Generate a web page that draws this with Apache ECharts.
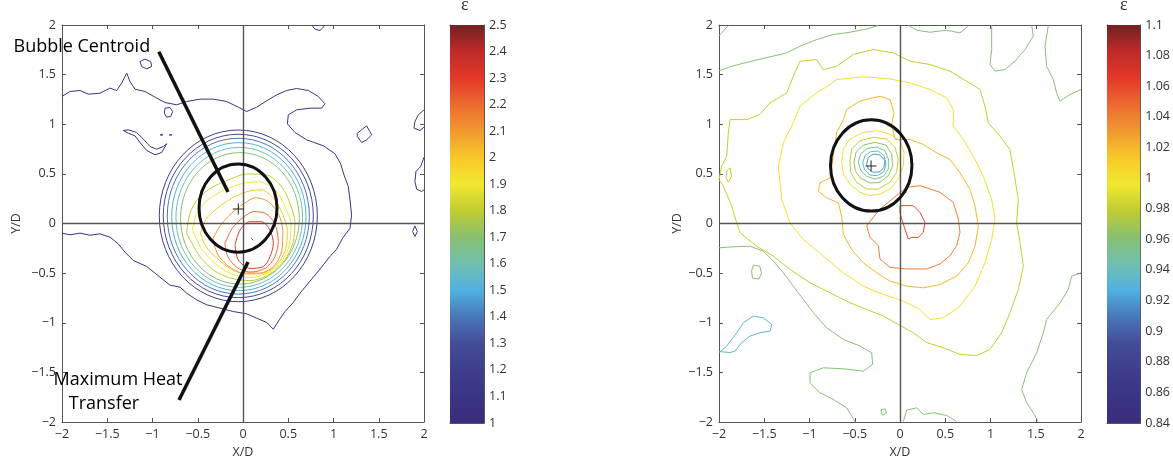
<!DOCTYPE html>
<html><head><meta charset="utf-8">
<script src="https://cdn.jsdelivr.net/npm/echarts@6/dist/echarts.min.js"></script>
<style>html,body{margin:0;padding:0;background:#fff}#c{width:1173px;height:464px}</style>
</head><body><div id="c"></div>
<script>
// ---------- axis settings ----------
const axisMin = -2, axisMax = 2, axisStep = 0.5;
const leftScale = {min: 1, max: 2.5, step: 0.1};
const rightScale = {min: 0.84, max: 1.1, step: 0.02};

// ---------- LEFT PLOT contours (data coords X/D, Y/D) ----------
const L_11_main = [[-2,1.28],[-1.912,1.33],[-1.801,1.34],[-1.709,1.303],[-1.58,1.313],[-1.47,1.364],[-1.396,1.34],[-1.341,1.414],[-1.285,1.515],[-1.249,1.431],[-1.193,1.353],[-1.083,1.33],[-0.972,1.273],[-0.862,1.219],[-0.733,1.196],[-0.622,1.229],[-0.475,1.253],[-0.328,1.253],[-0.18,1.229],[-0.052,1.172],[0.041,1.128],[0.151,1.172],[0.262,1.236],[0.372,1.296],[0.483,1.34],[0.593,1.36],[0.722,1.34],[0.832,1.28],[0.906,1.206],[0.869,1.162],[0.74,1.162],[0.593,1.145],[0.501,1.095],[0.49,1.004],[0.575,0.917],[0.703,0.843],[0.888,0.783],[1.017,0.702],[1.079,0.601],[1.116,0.49],[1.164,0.373],[1.182,0.238],[1.2,0.087],[1.182,-0.047],[1.101,-0.148],[1.035,-0.259],[0.961,-0.332],[0.888,-0.416],[0.814,-0.5],[0.722,-0.601],[0.63,-0.702],[0.556,-0.796],[0.464,-0.887],[0.401,-0.971],[0.335,-1.065],[0.262,-0.997],[0.151,-0.954],[0.041,-0.91],[-0.107,-0.887],[-0.254,-0.853],[-0.401,-0.819],[-0.512,-0.769],[-0.622,-0.702],[-0.696,-0.641],[-0.807,-0.621],[-0.88,-0.568],[-0.972,-0.5],[-1.064,-0.433],[-1.212,-0.373],[-1.304,-0.289],[-1.378,-0.205],[-1.47,-0.138],[-1.58,-0.104],[-1.691,-0.118],[-1.801,-0.097],[-1.912,-0.114],[-2,-0.097]];
const L_11_loopA = [[-1.322,0.937],[-1.267,0.91],[-1.193,0.883],[-1.138,0.816],[-1.064,0.736],[-0.972,0.692],[-0.899,0.715],[-0.843,0.803],[-0.88,0.776],[-0.954,0.749],[-1.028,0.776],[-1.101,0.85],[-1.175,0.917],[-1.267,0.944],[-1.322,0.937]];
const L_11_loopB = [[-1.138,1.632],[-1.083,1.656],[-1.02,1.632],[-1.009,1.582],[-1.064,1.558],[-1.12,1.582],[-1.138,1.632]];
const L_11_loopC = [[-0.862,1.162],[-0.807,1.169],[-0.777,1.128],[-0.799,1.078],[-0.843,1.071],[-0.869,1.112],[-0.862,1.162]];
const L_11_dot1 = [[-0.915,0.893],[-0.895,0.9],[-0.885,0.893],[-0.895,0.886],[-0.915,0.893]];
const L_11_dot2 = [[-0.815,0.893],[-0.795,0.9],[-0.785,0.893],[-0.795,0.886],[-0.815,0.893]];
const L_11_loopD = [[1.263,0.91],[1.311,0.944],[1.366,0.984],[1.422,0.893],[1.366,0.843],[1.311,0.816],[1.263,0.877],[1.263,0.91]];
const L_11_edgeA = [[2.0,1.145],[1.937,1.095],[1.9,1.028],[1.889,0.961],[1.956,0.937],[2.0,0.971]];
const L_11_edgeB = [[2.0,0.668],[1.963,0.574],[1.911,0.524],[1.9,0.423],[1.919,0.346],[1.974,0.322],[2.0,0.339]];
const L_11_loopE = [[1.9,-0.024],[1.926,-0.081],[1.9,-0.131],[1.874,-0.081],[1.9,-0.024]];
const L_11_top = [[0.759,2.0],[0.795,1.958],[0.851,1.945],[0.895,1.985],[0.906,2.0]];
// near-circular outer rings: [centreX, centreY, radiusX, radiusY, level]
const leftRings = [
  [-0.052,0.077,0.873,0.865,1.2],
  [-0.052,0.076,0.829,0.823,1.3],
  [-0.052,0.074,0.785,0.785,1.4],
  [-0.046,0.069,0.742,0.746,1.5],
  [-0.041,0.062,0.700,0.705,1.6],
  [-0.034,0.052,0.656,0.662,1.7]
];
const L_18 = [[-0.623,-0.099],[-0.586,0.102],[-0.494,0.254],[-0.328,0.371],[-0.144,0.445],[0.04,0.499],[0.262,0.489],[0.427,0.371],[0.519,0.203],[0.575,0.0],[0.55,-0.2],[0.46,-0.37],[0.31,-0.5],[0.09,-0.575],[-0.14,-0.55],[-0.328,-0.468],[-0.475,-0.334],[-0.623,-0.099]];
const L_19 = [[-0.56,-0.06],[-0.51,0.1],[-0.4,0.23],[-0.22,0.33],[-0.02,0.4],[0.18,0.42],[0.36,0.33],[0.47,0.16],[0.53,-0.02],[0.51,-0.22],[0.43,-0.38],[0.29,-0.49],[0.08,-0.545],[-0.12,-0.51],[-0.3,-0.41],[-0.46,-0.25],[-0.56,-0.06]];
const L_20 = [[-0.47,-0.1],[-0.41,0.04],[-0.29,0.15],[-0.13,0.25],[0.04,0.32],[0.2,0.34],[0.34,0.25],[0.44,0.09],[0.49,-0.08],[0.47,-0.26],[0.38,-0.41],[0.23,-0.5],[0.05,-0.51],[-0.13,-0.46],[-0.29,-0.35],[-0.41,-0.23],[-0.47,-0.1]];
const L_21 = [[-0.33,-0.15],[-0.25,-0.02],[-0.13,0.1],[0.01,0.2],[0.14,0.26],[0.28,0.22],[0.39,0.1],[0.44,-0.08],[0.43,-0.27],[0.34,-0.43],[0.18,-0.5],[0.0,-0.5],[-0.16,-0.43],[-0.28,-0.31],[-0.33,-0.15]];
const L_22 = [[-0.2,-0.2],[-0.12,-0.05],[0.0,0.06],[0.12,0.12],[0.25,0.1],[0.35,0.0],[0.39,-0.18],[0.35,-0.34],[0.25,-0.45],[0.08,-0.49],[-0.07,-0.44],[-0.17,-0.33],[-0.2,-0.2]];
const L_23 = [[-0.088,-0.217],[-0.033,-0.066],[0.077,0.018],[0.206,0.018],[0.298,-0.066],[0.335,-0.2],[0.298,-0.334],[0.225,-0.435],[0.077,-0.452],[-0.052,-0.368],[-0.088,-0.217]];
const L_24 = [[0.093,-0.15],[0.113,-0.15],[0.113,-0.17],[0.093,-0.17],[0.093,-0.15]];

// ---------- RIGHT PLOT contours ----------
const R_096_a = [[-2,1.89],[-1.952,1.94],[-1.897,1.995]];
const R_096_b = [[-2,1.54],[-1.842,1.589],[-1.62,1.64],[-1.436,1.679],[-1.252,1.719],[-1.105,1.786],[-0.921,1.853],[-0.737,1.904],[-0.552,1.927],[-0.368,1.96],[-0.239,1.995]];
const R_096_c = [[0.092,1.995],[0.184,1.948],[0.331,1.927],[0.516,1.948],[0.663,1.92],[0.755,1.99]];
const R_096_d = [[1.013,1.995],[1.013,1.753],[0.994,1.602],[1.05,1.535],[1.16,1.551],[1.271,1.635],[1.381,1.753],[1.473,1.887],[1.455,1.995]];
const R_096_e = [[1.639,1.995],[1.602,1.786],[1.62,1.585],[1.694,1.451],[1.731,1.316],[1.768,1.232],[1.878,1.3],[2.0,1.35]];
const R_096_f = [[-2,-0.245],[-1.842,-0.235],[-1.657,-0.228],[-1.51,-0.279],[-1.399,-0.379],[-1.289,-0.497],[-1.179,-0.631],[-1.068,-0.765],[-0.958,-0.9],[-0.81,-1.051],[-0.626,-1.168],[-0.442,-1.235],[-0.313,-1.303],[-0.302,-1.42],[-0.405,-1.487],[-0.626,-1.464],[-0.847,-1.454],[-0.994,-1.504],[-0.994,-1.605],[-0.884,-1.706],[-0.737,-1.773],[-0.589,-1.857],[-0.497,-1.995]];
const R_096_g = [[2.0,-0.497],[1.897,-0.53],[1.86,-0.665],[1.768,-0.799],[1.62,-0.967],[1.584,-1.101],[1.51,-1.303],[1.399,-1.504],[1.344,-1.672],[1.4,-1.806],[1.473,-1.907],[1.528,-1.995]];
const R_096_h = [[0.037,-1.995],[0.074,-1.88],[0.184,-1.857],[0.258,-1.924],[0.368,-1.907],[0.516,-1.934],[0.626,-1.995]];
const R_096_i = [[-1.62,-0.42],[-1.55,-0.43],[-1.53,-0.5],[-1.56,-0.56],[-1.63,-0.55],[-1.64,-0.48],[-1.62,-0.42]];
const R_096_j = [[-0.2,-1.87],[-0.16,-1.87],[-0.15,-1.91],[-0.19,-1.93],[-0.21,-1.9],[-0.2,-1.87]];
const R_094_a = [[-2,-1.3],[-1.915,-1.235],[-1.805,-1.101],[-1.731,-1.0],[-1.62,-0.933],[-1.51,-0.95],[-1.418,-1.017],[-1.436,-1.084],[-1.547,-1.101],[-1.657,-1.134],[-1.75,-1.2],[-1.823,-1.285],[-1.878,-1.3],[-2,-1.29]];
const R_098_main = [[-1.105,1.635],[-0.921,1.652],[-0.847,1.551],[-0.7,1.585],[-0.516,1.703],[-0.295,1.753],[-0.074,1.719],[0.11,1.635],[0.331,1.602],[0.552,1.535],[0.737,1.434],[0.884,1.35],[0.939,1.182],[0.976,1.014],[1.105,0.88],[1.215,0.745],[1.26,0.51],[1.307,0.242],[1.289,0.007],[1.326,-0.195],[1.363,-0.43],[1.307,-0.665],[1.215,-0.9],[1.123,-1.101],[0.994,-1.269],[0.847,-1.33],[0.663,-1.32],[0.479,-1.252],[0.295,-1.2],[0.147,-1.101],[-0.184,-0.933],[-0.368,-0.866],[-0.552,-0.799],[-0.773,-0.698],[-0.994,-0.597],[-1.215,-0.463],[-1.399,-0.329],[-1.583,-0.228],[-1.767,-0.094],[-1.805,0.007],[-1.86,0.175],[-1.952,0.376],[-2.0,0.443],[-1.97,0.578],[-1.915,0.678],[-1.897,0.913],[-1.878,1.047],[-1.694,1.047],[-1.547,1.098],[-1.436,1.215],[-1.252,1.316],[-1.179,1.484],[-1.105,1.635]];
const R_098_loop = [[-1.915,0.527],[-1.878,0.561],[-1.86,0.477],[-1.897,0.416],[-1.923,0.46],[-1.915,0.527]];
const R_100_main = [[-0.7,1.451],[-0.405,1.478],[-0.11,1.457],[0.11,1.417],[0.331,1.35],[0.516,1.266],[0.589,1.148],[0.589,0.981],[0.7,0.846],[0.81,0.678],[0.921,0.477],[1.013,0.242],[1.05,0.04],[1.013,-0.161],[0.939,-0.396],[0.829,-0.631],[0.663,-0.833],[0.479,-0.95],[0.331,-0.967],[0.221,-0.866],[0.037,-0.782],[-0.184,-0.715],[-0.405,-0.631],[-0.626,-0.497],[-0.847,-0.329],[-1.068,-0.161],[-1.215,0.007],[-1.307,0.242],[-1.344,0.578],[-1.289,0.813],[-1.179,1.014],[-1.105,1.182],[-0.921,1.316],[-0.773,1.4],[-0.7,1.451]];
const R_102_main = [[-0.626,1.048],[-0.589,1.149],[-0.442,1.233],[-0.221,1.283],[-0.11,1.249],[-0.066,1.115],[-0.092,0.997],[-0.055,0.846],[0.11,0.846],[0.258,0.796],[0.405,0.712],[0.552,0.645],[0.663,0.51],[0.773,0.343],[0.829,0.175],[0.866,-0.027],[0.829,-0.228],[0.755,-0.396],[0.626,-0.53],[0.442,-0.615],[0.258,-0.648],[0.074,-0.631],[-0.11,-0.581],[-0.258,-0.497],[-0.405,-0.396],[-0.534,-0.262],[-0.626,-0.111],[-0.645,0.074],[-0.681,0.208],[-0.81,0.259],[-0.902,0.326],[-0.884,0.41],[-0.773,0.46],[-0.737,0.678],[-0.7,0.914],[-0.626,1.048]];
const R_104_main = [[-0.368,-0.022],[-0.221,0.146],[0.074,0.364],[0.221,0.381],[0.442,0.314],[0.589,0.213],[0.644,0.045],[0.663,-0.089],[0.626,-0.223],[0.552,-0.324],[0.442,-0.408],[0.295,-0.458],[0.074,-0.458],[-0.111,-0.442],[-0.221,-0.358],[-0.24,-0.223],[-0.332,-0.14],[-0.368,-0.022]];
const R_106_main = [[0.0,0.18],[0.147,0.18],[0.221,0.112],[0.276,0.012],[0.258,-0.089],[0.202,-0.14],[0.129,-0.14],[0.092,-0.156],[0.055,-0.056],[0.018,0.045],[0.0,0.112],[0.0,0.18]];
const R_100_in = [[-0.645,0.616],[-0.626,0.75],[-0.553,0.851],[-0.405,0.918],[-0.258,0.935],[-0.111,0.901],[0.0,0.834],[0.044,0.717],[0.037,0.582],[-0.019,0.448],[-0.111,0.347],[-0.221,0.297],[-0.332,0.28],[-0.442,0.314],[-0.553,0.398],[-0.626,0.498],[-0.645,0.616]];
const R_098_in = [[-0.553,0.633],[-0.534,0.75],[-0.442,0.834],[-0.295,0.868],[-0.147,0.851],[-0.055,0.767],[-0.019,0.65],[-0.037,0.515],[-0.111,0.415],[-0.24,0.347],[-0.368,0.347],[-0.479,0.415],[-0.545,0.515],[-0.553,0.633]];
const R_096_in = [[-0.508,0.616],[-0.486,0.717],[-0.405,0.791],[-0.276,0.817],[-0.155,0.791],[-0.092,0.7],[-0.081,0.582],[-0.129,0.482],[-0.221,0.415],[-0.332,0.408],[-0.435,0.455],[-0.494,0.532],[-0.508,0.616]];
const R_095_in = [[-0.461,0.616],[-0.435,0.7],[-0.361,0.757],[-0.258,0.77],[-0.166,0.734],[-0.129,0.65],[-0.129,0.549],[-0.184,0.475],[-0.276,0.448],[-0.368,0.475],[-0.431,0.532],[-0.461,0.616]];
const R_0935_in = [[-0.413,0.609],[-0.387,0.683],[-0.324,0.724],[-0.24,0.73],[-0.177,0.683],[-0.155,0.599],[-0.177,0.522],[-0.251,0.482],[-0.332,0.488],[-0.391,0.542],[-0.413,0.609]];
const R_092_in = [[-0.368,0.599],[-0.35,0.666],[-0.295,0.7],[-0.221,0.69],[-0.166,0.633],[-0.177,0.566],[-0.221,0.522],[-0.295,0.515],[-0.35,0.549],[-0.368,0.599]];

// ---------- annotations ----------
const leftBubble = [-0.055, 0.155, 0.431, 0.445];   // centre x, centre y, radius x, radius y
const rightBubble = [-0.318, 0.585, 0.45, 0.46];
const leftCentroid = [-0.052, 0.146];
const rightCentroid = [-0.32, 0.58];
const centroidLine = [[-0.93, 1.73], [-0.166, 0.317]];
const heatLine = [[-0.707, -1.778], [0.055, -0.388]];
const centroidText = 'Bubble Centroid';
const heatText1 = 'Maximum Heat';
const heatText2 = 'Transfer';

const leftContours = [
  {level:1.1, pts:L_11_main},{level:1.1, pts:L_11_loopA},{level:1.1, pts:L_11_loopB},{level:1.1, pts:L_11_loopC},
  {level:1.1, pts:L_11_dot1},{level:1.1, pts:L_11_dot2},{level:1.1, pts:L_11_loopD},{level:1.1, pts:L_11_edgeA},
  {level:1.1, pts:L_11_edgeB},{level:1.1, pts:L_11_loopE},{level:1.1, pts:L_11_top},
  {level:1.8, pts:L_18, smooth:true},{level:1.9, pts:L_19, smooth:true},{level:2.0, pts:L_20, smooth:true},
  {level:2.1, pts:L_21, smooth:true},{level:2.2, pts:L_22, smooth:true},{level:2.3, pts:L_23, smooth:true},
  {level:2.4, pts:L_24}
];
const rightContours = [
  {level:0.96, pts:R_096_a},{level:0.96, pts:R_096_b},{level:0.96, pts:R_096_c},{level:0.96, pts:R_096_d},
  {level:0.96, pts:R_096_e},{level:0.96, pts:R_096_f},{level:0.96, pts:R_096_g},{level:0.96, pts:R_096_h},
  {level:0.96, pts:R_096_i},{level:0.96, pts:R_096_j},{level:0.935, pts:R_094_a},
  {level:0.98, pts:R_098_main},{level:0.98, pts:R_098_loop},{level:1.0, pts:R_100_main},
  {level:1.02, pts:R_102_main},{level:1.04, pts:R_104_main},{level:1.06, pts:R_106_main},
  {level:1.0, pts:R_100_in},{level:0.98, pts:R_098_in},{level:0.965, pts:R_096_in},
  {level:0.95, pts:R_095_in},{level:0.935, pts:R_0935_in},{level:0.92, pts:R_092_in}
];

// ---------- colour map (jet-like, as printed) ----------
const jetStops = [[0,'#3a2c7c'],[0.067,'#3a3484'],[0.133,'#3e3e8c'],[0.2,'#444c98'],[0.267,'#4878b8'],[0.333,'#50b0e0'],[0.4,'#70c0b0'],[0.467,'#88c070'],[0.533,'#c0cc30'],[0.6,'#f0e830'],[0.667,'#f8c828'],[0.733,'#f09830'],[0.8,'#ec6a30'],[0.867,'#e43828'],[0.933,'#c02a28'],[1,'#702222']];
function hex2rgb(h){return [parseInt(h.slice(1,3),16),parseInt(h.slice(3,5),16),parseInt(h.slice(5,7),16)];}
function jet(t){
  t = Math.max(0, Math.min(1, t));
  for (let i = 0; i < jetStops.length - 1; i++) {
    const [a, ca] = jetStops[i], [b, cb] = jetStops[i+1];
    if (t <= b) {
      const f = (t - a) / (b - a), x = hex2rgb(ca), y = hex2rgb(cb);
      return 'rgb(' + x.map((v, k) => Math.round(v + (y[k] - v) * f)).join(',') + ')';
    }
  }
  return jetStops[jetStops.length-1][1];
}

const FONT = "'Open Sans', sans-serif";
const TXT = '#333';
const AX = '#555';
const minusFmt = v => (v < 0 ? '\u2212' + String(Math.abs(v)) : String(v));

function plotAxes(grid, yNameGap) {
  const common = {type:'value', gridIndex:grid, min:axisMin, max:axisMax, interval:axisStep,
    splitLine:{show:false}, axisLine:{show:true, onZero:false, lineStyle:{color:AX, width:1}},
    axisTick:{show:true, inside:true, length:4, lineStyle:{color:AX}}};
  const lab = {show:true, color:TXT, fontSize:12.5, fontFamily:FONT, formatter:minusFmt};
  const nameStyle = {color:TXT, fontSize:12.5, fontFamily:FONT};
  return {
    x: [Object.assign({}, common, {position:'bottom', axisLabel:Object.assign({margin:6}, lab), name:'X/D', nameLocation:'middle', nameGap:23, nameTextStyle:nameStyle}),
        Object.assign({}, common, {position:'top', axisLabel:{show:false}})],
    y: [Object.assign({}, common, {position:'left', axisLabel:Object.assign({margin:6}, lab), name:'Y/D', nameLocation:'middle', nameGap:yNameGap, nameTextStyle:nameStyle}),
        Object.assign({}, common, {position:'right', axisLabel:{show:false}})]
  };
}
function barAxes(grid, sc) {
  const fmt = v => String(Number(v.toFixed(2)));
  const line = {show:true, onZero:false, lineStyle:{color:AX, width:1}};
  const yc = {type:'value', gridIndex:grid, min:sc.min, max:sc.max, interval:sc.step, splitLine:{show:false}, axisLine:line,
    axisTick:{show:true, inside:true, length:3, lineStyle:{color:AX}}};
  const xc = {type:'category', gridIndex:grid, data:['c'], axisLine:line, axisTick:{show:false}, axisLabel:{show:false}, splitLine:{show:false}};
  return {
    x: [Object.assign({}, xc, {position:'bottom'}), Object.assign({}, xc, {position:'top'})],
    y: [Object.assign({}, yc, {position:'right', axisLabel:{show:true, margin:5, color:TXT, fontSize:12.5, fontFamily:FONT, formatter:fmt}}),
        Object.assign({}, yc, {position:'left', axisLabel:{show:false}})]
  };
}

// each grid owns two x axes and two y axes: axis index = 2 * grid index
const pL = plotAxes(0, 39), pR = plotAxes(1, 26), bL = barAxes(2, leftScale), bR = barAxes(3, rightScale);
const xAxes = [...pL.x, ...pR.x, ...bL.x, ...bR.x];
const yAxes = [...pL.y, ...pR.y, ...bL.y, ...bR.y];
const AXL = 0, AXR = 2, AXCL = 4, AXCR = 6;

function contourSeries(list, ax, sc) {
  return list.map(c => ({type:'line', xAxisIndex:ax, yAxisIndex:ax, data:c.pts, showSymbol:false, symbol:'none',
    smooth: c.smooth ? 0.3 : false, silent:true, z:3,
    lineStyle:{color: jet((c.level - sc.min)/(sc.max - sc.min)), width:1}}));
}
function ellipseSeries(data, ax, colorFn, width, z) {
  return {type:'custom', xAxisIndex:ax, yAxisIndex:ax, data:data, silent:true, z:z,
    renderItem: (params, api) => {
      const c = api.coord([api.value(0), api.value(1)]);
      const s = api.size([api.value(2), api.value(3)]);
      return {type:'ellipse', shape:{cx:c[0], cy:c[1], rx:s[0], ry:s[1]},
        style:{fill:'none', stroke:colorFn(api.value(4)), lineWidth:width}};
    }};
}
const plusSym = 'path://M0,4.55H10V5.45H0Z M4.55,0H5.45V10H4.55Z';
function centroidSeries(pt, ax) {
  return {type:'scatter', xAxisIndex:ax, yAxisIndex:ax, data:[pt], symbol:plusSym, symbolSize:11, silent:true, z:6,
    itemStyle:{color:'#222', opacity:1},
    markLine:{silent:true, symbol:['none','none'], label:{show:false}, animation:false,
      lineStyle:{color:'#555', width:1.4, type:'solid'}, data:[{xAxis:0},{yAxis:0}]}};
}
function colorBarSeries(ax, sc, key) {
  const grad = new echarts.graphic.LinearGradient(0, 1, 0, 0, jetStops.map(s => ({offset:s[0], color:s[1]})));
  return [
    {type:'bar', xAxisIndex:ax, yAxisIndex:ax, stack:key, data:[sc.min], barWidth:'100%', silent:true, itemStyle:{color:'rgba(0,0,0,0)'}},
    {type:'bar', xAxisIndex:ax, yAxisIndex:ax, stack:key, data:[Number((sc.max - sc.min).toFixed(4))], barWidth:'100%', silent:true, itemStyle:{color:grad}}
  ];
}

const annLabel = {show:true, position:'inside', align:'center', color:'#000', opacity:1, fontSize:18, fontWeight:500, fontFamily:FONT, textBorderWidth:0};
const series = [
  ...contourSeries(leftContours, AXL, leftScale),
  ellipseSeries(leftRings, AXL, v => jet((v - leftScale.min)/(leftScale.max - leftScale.min)), 1, 3),
  ellipseSeries([[...leftBubble, 0]], AXL, () => '#111', 3, 5),
  centroidSeries(leftCentroid, AXL),
  {type:'line', xAxisIndex:AXL, yAxisIndex:AXL, data:centroidLine, showSymbol:false, symbol:'none', silent:true, z:7, lineStyle:{color:'#111', width:3.5}},
  {type:'line', xAxisIndex:AXL, yAxisIndex:AXL, data:heatLine, showSymbol:false, symbol:'none', silent:true, z:7, lineStyle:{color:'#111', width:3.5}},
  {type:'scatter', xAxisIndex:AXL, yAxisIndex:AXL, silent:true, clip:false, z:8, symbolSize:1, itemStyle:{color:'rgba(0,0,0,0)', opacity:1},
    data:[
      {value:centroidLine[0], label:Object.assign({}, annLabel, {formatter:centroidText, offset:[-77, -5]})},
      {value:heatLine[0], label:Object.assign({}, annLabel, {formatter:heatText1, offset:[-61, -20]})},
      {value:heatLine[0], label:Object.assign({}, annLabel, {formatter:heatText2, offset:[-75, 4]})}
    ]},
  ...contourSeries(rightContours, AXR, rightScale),
  ellipseSeries([[...rightBubble, 0]], AXR, () => '#111', 3, 5),
  centroidSeries(rightCentroid, AXR),
  ...colorBarSeries(AXCL, leftScale, 'cbL'),
  ...colorBarSeries(AXCR, rightScale, 'cbR')
];

const chart = echarts.init(document.getElementById('c'), null, {renderer:'canvas'});
chart.setOption({
  animation:false,
  backgroundColor:'#fff',
  title:[
    {text:'\u03b5', left:461, top:-4, padding:0, textStyle:{fontFamily:"'Liberation Serif', serif", fontSize:18, fontWeight:'normal', color:TXT}},
    {text:'\u03b5', left:1120, top:-4, padding:0, textStyle:{fontFamily:"'Liberation Serif', serif", fontSize:18, fontWeight:'normal', color:TXT}}
  ],
  grid:[
    {left:62, top:25, width:362, height:397, containLabel:false},
    {left:719, top:25, width:362, height:397, containLabel:false},
    {left:450, top:25, width:34, height:398, containLabel:false},
    {left:1107, top:25, width:35, height:398, containLabel:false}
  ],
  xAxis:xAxes,
  yAxis:yAxes,
  series:series
});
</script></body></html>
